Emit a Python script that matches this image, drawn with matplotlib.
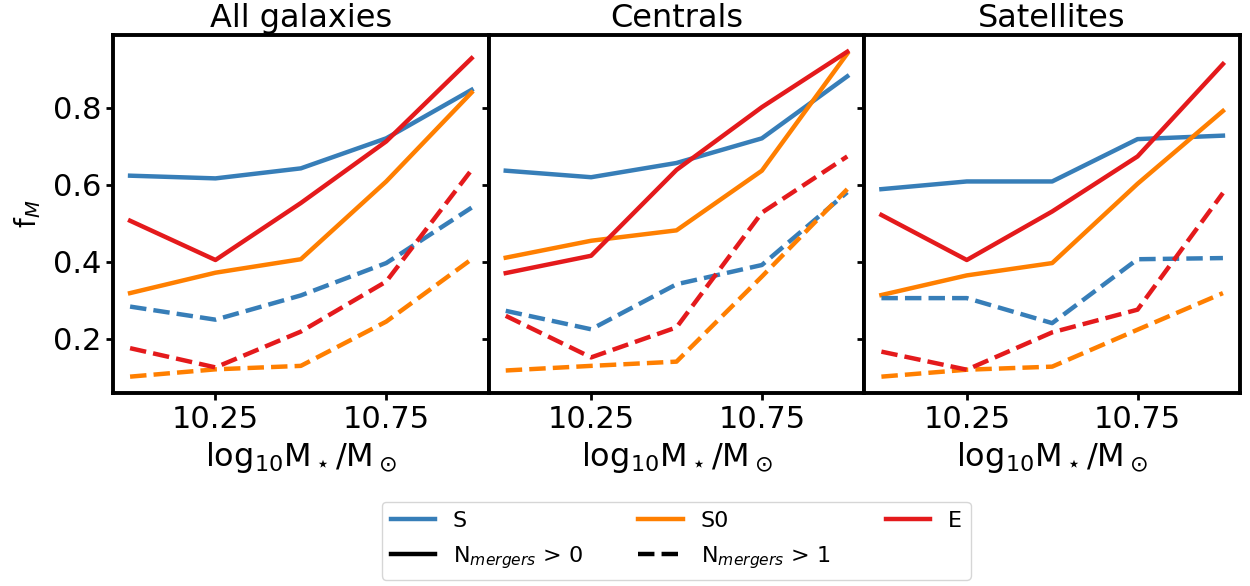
import matplotlib
matplotlib.use("Agg")
import matplotlib.pyplot as plt
from matplotlib.lines import Line2D

mass_bins = [10.0, 10.25, 10.5, 10.75, 11.0]
panel_titles = ["All galaxies", "Centrals", "Satellites"]

# Solid: N_mergers > 0 ; dashed: N_mergers > 1
all_S_gt0 = [0.623, 0.616, 0.642, 0.720, 0.846]
all_S0_gt0 = [0.318, 0.371, 0.406, 0.608, 0.839]
all_E_gt0 = [0.506, 0.404, 0.552, 0.712, 0.928]
all_S_gt1 = [0.283, 0.249, 0.312, 0.396, 0.540]
all_S0_gt1 = [0.101, 0.120, 0.129, 0.244, 0.406]
all_E_gt1 = [0.175, 0.125, 0.218, 0.348, 0.638]

cen_S_gt0 = [0.636, 0.619, 0.656, 0.720, 0.881]
cen_S0_gt0 = [0.410, 0.454, 0.481, 0.636, 0.940]
cen_E_gt0 = [0.370, 0.415, 0.638, 0.801, 0.945]
cen_S_gt1 = [0.272, 0.224, 0.341, 0.391, 0.580]
cen_S0_gt1 = [0.117, 0.129, 0.140, 0.361, 0.588]
cen_E_gt1 = [0.259, 0.151, 0.229, 0.527, 0.673]

sat_S_gt0 = [0.588, 0.608, 0.608, 0.718, 0.727]
sat_S0_gt0 = [0.313, 0.364, 0.396, 0.602, 0.791]
sat_E_gt0 = [0.521, 0.404, 0.530, 0.673, 0.913]
sat_S_gt1 = [0.305, 0.305, 0.240, 0.406, 0.409]
sat_S0_gt1 = [0.101, 0.119, 0.127, 0.223, 0.318]
sat_E_gt1 = [0.166, 0.119, 0.216, 0.275, 0.578]

panels = [
    (all_S_gt0, all_S0_gt0, all_E_gt0, all_S_gt1, all_S0_gt1, all_E_gt1),
    (cen_S_gt0, cen_S0_gt0, cen_E_gt0, cen_S_gt1, cen_S0_gt1, cen_E_gt1),
    (sat_S_gt0, sat_S0_gt0, sat_E_gt0, sat_S_gt1, sat_S0_gt1, sat_E_gt1),
]

c_S, c_S0, c_E = "#377eb8", "#ff7f00", "#e41a1c"
lw = 3.2

fig, axes = plt.subplots(1, 3, figsize=(12.5, 5.86), dpi=100, sharey=True)
fig.subplots_adjust(left=0.0904, right=0.992, top=0.940, bottom=0.329, wspace=0)

for ax, title, data in zip(axes, panel_titles, panels):
    sg0, s0g0, eg0, sg1, s0g1, eg1 = data
    ax.plot(mass_bins, sg0, color=c_S, lw=lw)
    ax.plot(mass_bins, s0g0, color=c_S0, lw=lw)
    ax.plot(mass_bins, eg0, color=c_E, lw=lw)
    ax.plot(mass_bins, sg1, color=c_S, lw=lw, ls="--")
    ax.plot(mass_bins, s0g1, color=c_S0, lw=lw, ls="--")
    ax.plot(mass_bins, eg1, color=c_E, lw=lw, ls="--")
    ax.set_title(title, fontsize=23)
    ax.set_xticks([10.25, 10.75])
    ax.set_xticklabels(["10.25", "10.75"])
    ax.set_xlabel(r"$\mathrm{log_{10}M_\star/M_\odot}$", fontsize=23)
    ax.tick_params(labelsize=22, width=2, length=5)
    for sp in ax.spines.values():
        sp.set_linewidth(2.8)

axes[0].set_yticks([0.2, 0.4, 0.6, 0.8])
axes[0].set_ylim(0.058, 0.988)
axes[0].set_ylabel(r"f$_M$", fontsize=20, labelpad=7)

handles = [
    Line2D([], [], color=c_S, lw=lw),
    Line2D([], [], color="k", lw=lw),
    Line2D([], [], color=c_S0, lw=lw),
    Line2D([], [], color="k", lw=lw, ls="--"),
    Line2D([], [], color=c_E, lw=lw),
]
labels = ["S", r"N$_{mergers}$ > 0", "S0", r"N$_{mergers}$ > 1", "E"]
fig.legend(handles, labels, ncol=3, loc="lower center",
           bbox_to_anchor=(0.541, -0.008), fontsize=16, frameon=True,
           columnspacing=2.5, labelspacing=0.6)

fig.savefig("out.png", dpi=100)
